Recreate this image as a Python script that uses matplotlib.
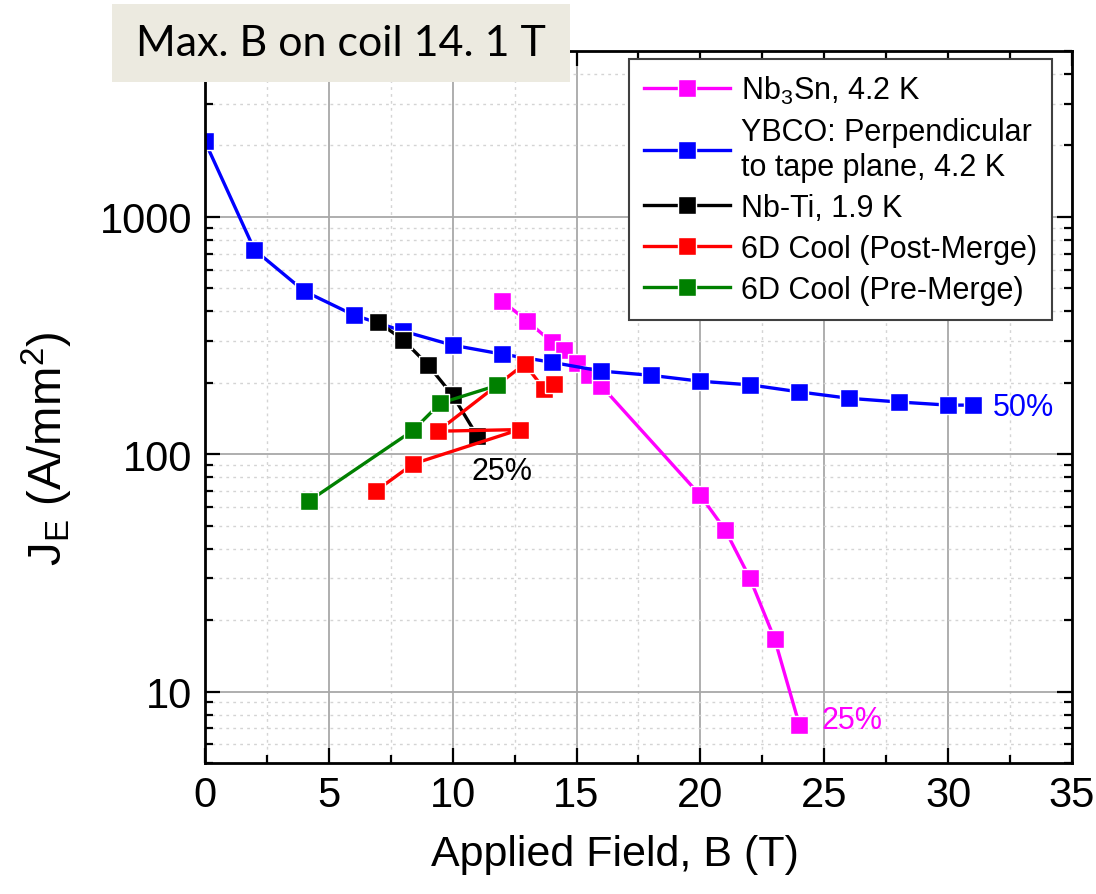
import matplotlib
matplotlib.use("Agg")
import matplotlib.pyplot as plt
from matplotlib.patches import Rectangle
from matplotlib.ticker import FixedLocator, MultipleLocator, LogLocator, NullFormatter

plt.rcParams["font.family"] = ["Liberation Sans", "DejaVu Sans"]
plt.rcParams["mathtext.fontset"] = "custom"
plt.rcParams["mathtext.rm"] = "Liberation Sans"
plt.rcParams["mathtext.it"] = "Liberation Sans:italic"

# Nb3Sn, 4.2 K
nb3sn_b = [12, 13, 14, 14.5, 15, 15.5, 16, 20, 21, 22, 23, 24]
nb3sn_j = [443, 364, 297, 275, 242, 216, 194, 67, 48, 30, 16.6, 7.2]

# YBCO perpendicular to tape plane, 4.2 K
ybco_b = [0, 2, 4, 6, 8, 10, 12, 14, 16, 18, 20, 22, 24, 26, 28, 30, 31]
ybco_j = [2080, 726, 487, 386, 330, 288, 264, 244, 224, 215, 203, 196, 183, 172, 166, 161, 161]

# Nb-Ti, 1.9 K
nbti_b = [7, 8, 9, 10, 11]
nbti_j = [360, 303, 238, 177, 119]

# 6D cooling channel coils
post_b = [6.9, 8.4, 12.7, 9.4, 12.9, 13.7, 14.1]
post_j = [70, 91, 127, 125, 240, 188, 198]
pre_b = [4.2, 8.4, 9.5, 11.8]
pre_j = [63.5, 126, 164, 195]

fig = plt.figure(figsize=(10.96, 8.95), dpi=100)
ax = fig.add_axes([0.187, 0.1464, 0.7911, 0.7955])

style = dict(marker="s", markersize=12.5, linewidth=2.4, markeredgecolor="white",
             markeredgewidth=1.0)
ax.plot(nb3sn_b, nb3sn_j, color="#FF00FF", label=r"Nb$_{\mathregular{3}}$Sn, 4.2 K", **style)
ax.plot(ybco_b, ybco_j, color="#0000FF",
        label="YBCO: Perpendicular\nto tape plane, 4.2 K", **style)
ax.plot(nbti_b, nbti_j, color="black", label="Nb-Ti, 1.9 K", **style)
ax.plot(post_b, post_j, color="#FF0000", label="6D Cool (Post-Merge)", **style)
ax.plot(pre_b, pre_j, color="#008000", label="6D Cool (Pre-Merge)", **style)

ax.set_yscale("log")
ax.set_xlim(0, 35)
ax.set_ylim(5, 5000)

ax.xaxis.set_major_locator(MultipleLocator(5))
ax.xaxis.set_minor_locator(MultipleLocator(2.5))
ax.yaxis.set_major_locator(FixedLocator([10, 100, 1000]))
ax.yaxis.set_minor_locator(LogLocator(base=10, subs=range(2, 10)))
ax.yaxis.set_minor_formatter(NullFormatter())
ax.set_yticklabels(["10", "100", "1000"])

ax.grid(which="major", color="#A8A8A8", linewidth=1.3, linestyle="-")
ax.grid(which="minor", color="#D4D4D4", linewidth=1.0, linestyle=(0, (2, 3)))
ax.set_axisbelow(True)

ax.tick_params(which="both", direction="in", top=True, right=True, width=1.6)
ax.tick_params(which="major", length=11, labelsize=30, pad=9)
ax.tick_params(which="minor", length=6)
for sp in ax.spines.values():
    sp.set_linewidth(2.0)

ax.set_xlabel("Applied Field, B (T)", fontsize=31)
ax.xaxis.set_label_coords(0.473, -0.1)
ax.set_ylabel(r"J$_{\mathregular{E}}$ (A/mm$^{\mathregular{2}}$)", fontsize=34)
ax.yaxis.set_label_coords(-0.15, 0.442)

ax.text(12, 85, "25%", fontsize=22, color="black", ha="center", va="center")
ax.text(31.8, 158, "50%", fontsize=22, color="#0000FF", ha="left", va="center")
ax.text(24.9, 7.6, "25%", fontsize=22, color="#FF00FF", ha="left", va="center")

leg = ax.legend(loc="upper right", bbox_to_anchor=(0.977, 0.989), borderaxespad=0,
                fontsize=22, handlelength=2.8, handletextpad=0.35,
                labelspacing=0.36, borderpad=0.5, fancybox=False, framealpha=1)
leg.get_frame().set_edgecolor("#404040")
leg.get_frame().set_linewidth(1.5)

# title box over the upper left corner
fig.add_artist(Rectangle((112 / 1096, 1 - 83 / 895), 458 / 1096, 78 / 895,
                         transform=fig.transFigure, facecolor="#ECEAE0",
                         edgecolor="none", zorder=10))
fig.text(341 / 1096, 1 - 44 / 895, "Max. B on coil 14. 1 T", fontsize=31,
         family="Lato", ha="center", va="center", zorder=11)

fig.savefig("out.png", dpi=100)
